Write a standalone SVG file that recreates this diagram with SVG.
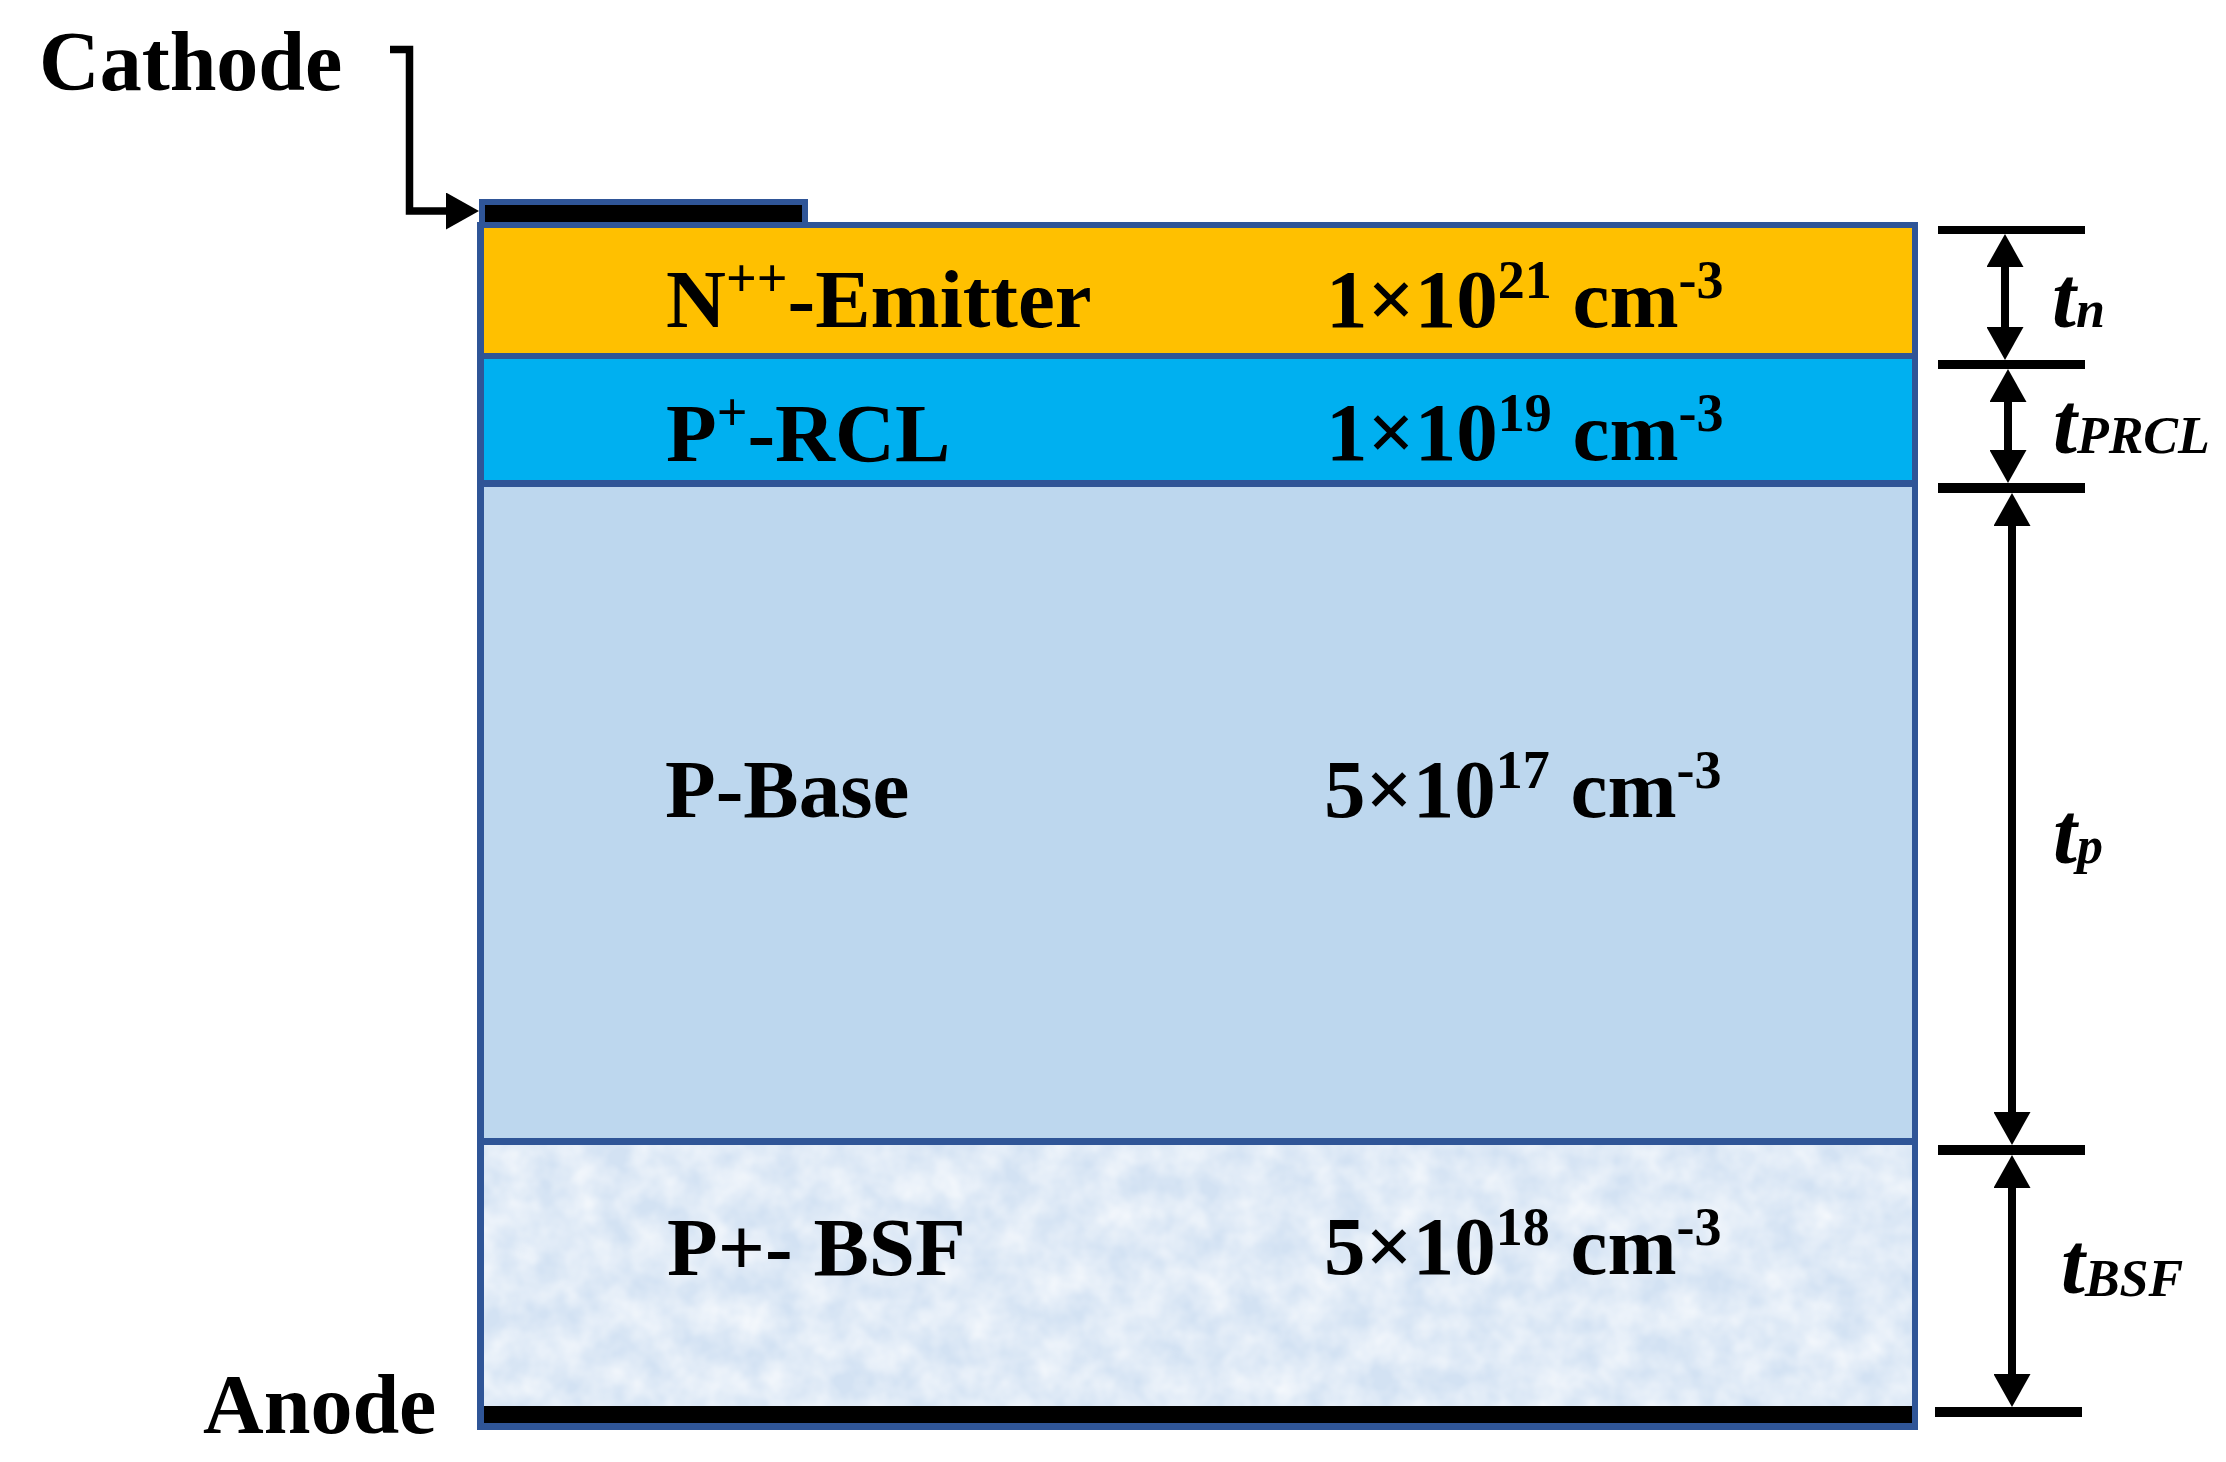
<svg xmlns="http://www.w3.org/2000/svg" width="2226" height="1462" viewBox="0 0 2226 1462">
<style>
.lbl{font-family:"Liberation Serif","Times New Roman",serif;font-weight:bold;font-size:83px;fill:#000}
.dim{font-family:"Liberation Serif","Times New Roman",serif;font-weight:bold;font-style:italic;fill:#000}
.shaft{stroke:#000;stroke-width:8;fill:none;marker-start:url(#ah);marker-end:url(#ah)}
.bar{fill:#000}
.border{fill:#2F5597}
</style>
<defs>
<marker id="ah" markerUnits="userSpaceOnUse" viewBox="0 0 33 37" refX="13" refY="18.5" markerWidth="33" markerHeight="37" orient="auto-start-reverse">
<path d="M0,0 L33,18.5 L0,37 Z" fill="#000"/>
</marker>
<marker id="ah1" markerUnits="userSpaceOnUse" viewBox="0 0 33 37" refX="13" refY="18.5" markerWidth="33" markerHeight="37" orient="auto">
<path d="M0,0 L33,18.5 L0,37 Z" fill="#000"/>
</marker>
<filter id="tex" x="0" y="0" width="100%" height="100%" color-interpolation-filters="sRGB">
<feTurbulence type="fractalNoise" baseFrequency="0.03" numOctaves="3" seed="7"/>
<feColorMatrix type="matrix" values="0 0 0 0 1  0 0 0 0 1  0 0 0 0 1  1.1 0 0 0 -0.25"/>
</filter>
</defs>
<rect width="2226" height="1462" fill="#fff"/>

<g id="cathode-contact">
<rect class="border" x="479" y="199" width="329" height="29"/>
<rect x="485" y="205" width="317" height="17" fill="#000"/>
</g>

<g id="device">
<rect class="border" x="477" y="222" width="1441" height="1208"/>
</g>

<g id="emitter">
<rect x="484" y="228" width="1428" height="125" fill="#FFC000"/>
<text class="lbl" x="666" y="327">N<tspan font-size="54" dy="-31">++</tspan><tspan dy="31">-Emitter</tspan></text>
<text class="lbl" x="1326" y="327">1×10<tspan font-size="54" dy="-29">21</tspan><tspan dy="29"> cm</tspan><tspan font-size="54" dy="-29">-3</tspan></text>
</g>

<g id="rcl">
<rect x="484" y="359" width="1428" height="121" fill="#00B0F0"/>
<text class="lbl" x="666" y="461">P<tspan font-size="54" dy="-31">+</tspan><tspan dy="31">-RCL</tspan></text>
<text class="lbl" x="1326" y="460">1×10<tspan font-size="54" dy="-29">19</tspan><tspan dy="29"> cm</tspan><tspan font-size="54" dy="-29">-3</tspan></text>
</g>

<g id="base">
<rect x="484" y="487" width="1428" height="651" fill="#BDD7EE"/>
<text class="lbl" x="665" y="817">P-Base</text>
<text class="lbl" x="1324" y="817">5×10<tspan font-size="54" dy="-29">17</tspan><tspan dy="29"> cm</tspan><tspan font-size="54" dy="-29">-3</tspan></text>
</g>

<g id="bsf">
<rect x="484" y="1145" width="1428" height="261" fill="#D3E2F3"/>
<rect x="484" y="1145" width="1428" height="261" filter="url(#tex)"/>
<text class="lbl" x="667" y="1275">P+- BSF</text>
<text class="lbl" x="1324" y="1274">5×10<tspan font-size="54" dy="-29">18</tspan><tspan dy="29"> cm</tspan><tspan font-size="54" dy="-29">-3</tspan></text>
</g>

<g id="anode-contact">
<rect x="484" y="1406" width="1428" height="17" fill="#000"/>
</g>

<g id="labels">
<text class="lbl" x="39" y="90" style="font-size:84px">Cathode</text>
<text class="lbl" x="203" y="1433" style="font-size:84px">Anode</text>
</g>

<g id="dim-bars">
<rect class="bar" x="1938" y="226" width="147" height="8"/>
<rect class="bar" x="1938" y="360" width="147" height="9"/>
<rect class="bar" x="1938" y="483" width="147" height="10"/>
<rect class="bar" x="1938" y="1145" width="147" height="10"/>
<rect class="bar" x="1935" y="1407" width="147" height="10"/>
</g>

<g id="connectors">
<path d="M390,49.5 H409.5 V211 H459" stroke="#000" stroke-width="7.5" fill="none" marker-end="url(#ah1)"/>
<line class="shaft" x1="2005" y1="254" x2="2005" y2="340"/>
<line class="shaft" x1="2008" y1="389" x2="2008" y2="463"/>
<line class="shaft" x1="2012" y1="513" x2="2012" y2="1125"/>
<line class="shaft" x1="2012" y1="1175" x2="2012" y2="1387"/>
</g>

<g id="dim-labels">
<text class="dim" x="2052" y="327"><tspan font-size="86">t</tspan><tspan font-size="52">n</tspan></text>
<text class="dim" x="2053" y="453"><tspan font-size="86">t</tspan><tspan font-size="52">PRCL</tspan></text>
<text class="dim" x="2053" y="863"><tspan font-size="86">t</tspan><tspan font-size="52">p</tspan></text>
<text class="dim" x="2061" y="1293"><tspan font-size="86">t</tspan><tspan font-size="52" dy="3">BSF</tspan></text>
</g>
</svg>
